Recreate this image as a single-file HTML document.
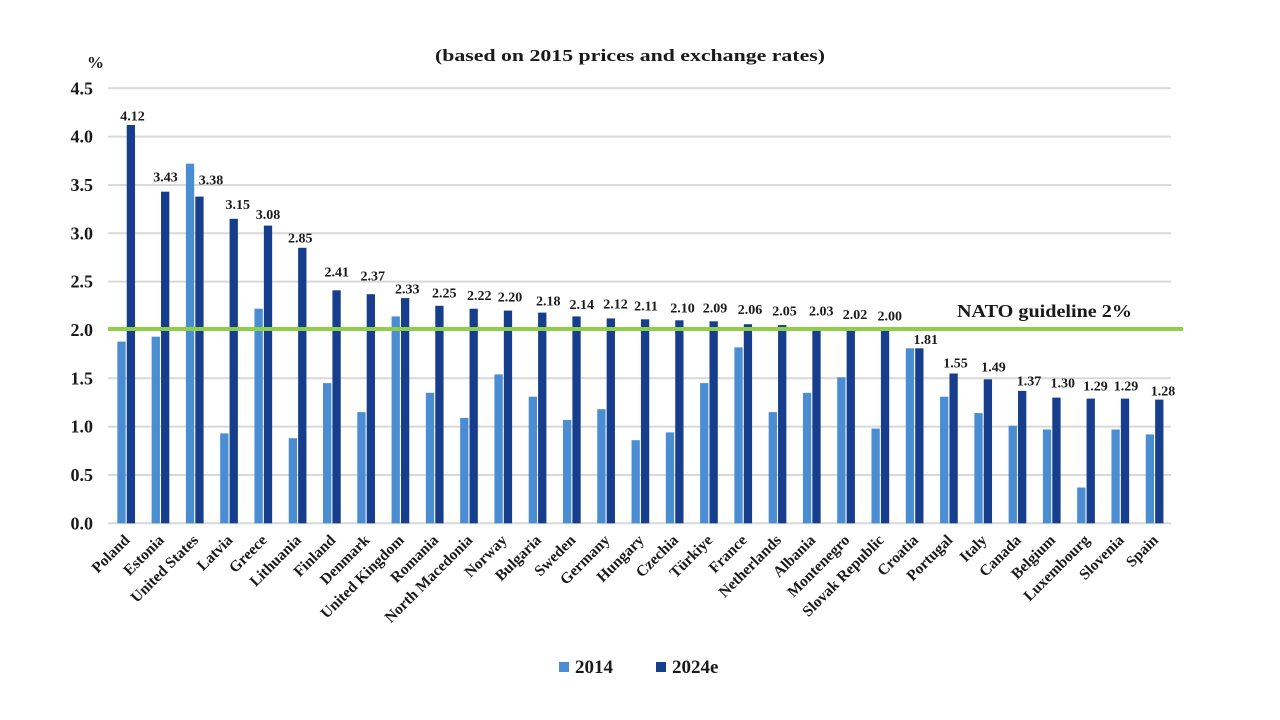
<!DOCTYPE html>
<html>
<head>
<meta charset="utf-8">
<style>
  html, body { margin:0; padding:0; background:#ffffff; }
  svg { display:block; }
  text { font-family:"Liberation Serif", serif; font-weight:bold; fill:#1a1a1a; }
</style>
</head>
<body>
<svg width="1280" height="720" viewBox="0 0 1280 720" xmlns="http://www.w3.org/2000/svg">
  <rect x="0" y="0" width="1280" height="720" fill="#ffffff"/>

  <!-- Title -->
  <text x="435" y="61" font-size="17" textLength="390" lengthAdjust="spacingAndGlyphs">(based on 2015 prices and exchange rates)</text>
  <text x="87" y="68" font-size="17">%</text>

  <!-- Gridlines -->
  <g stroke="#d9d9d9" stroke-width="2">
    <line x1="108" y1="88.3" x2="1171" y2="88.3"/>
    <line x1="108" y1="136.6" x2="1171" y2="136.6"/>
    <line x1="108" y1="185.0" x2="1171" y2="185.0"/>
    <line x1="108" y1="233.3" x2="1171" y2="233.3"/>
    <line x1="108" y1="281.6" x2="1171" y2="281.6"/>
    <line x1="108" y1="330.0" x2="1171" y2="330.0"/>
    <line x1="108" y1="378.3" x2="1171" y2="378.3"/>
    <line x1="108" y1="426.6" x2="1171" y2="426.6"/>
    <line x1="108" y1="475.0" x2="1171" y2="475.0"/>
    <line x1="108" y1="523.3" x2="1171" y2="523.3"/>
  </g>

  <!-- Y axis labels -->
  <g font-size="18" text-anchor="end">
    <text x="93" y="94.3">4.5</text>
    <text x="93" y="142.6">4.0</text>
    <text x="93" y="191.0">3.5</text>
    <text x="93" y="239.3">3.0</text>
    <text x="93" y="287.6">2.5</text>
    <text x="93" y="336.0">2.0</text>
    <text x="93" y="384.3">1.5</text>
    <text x="93" y="432.6">1.0</text>
    <text x="93" y="481.0">0.5</text>
    <text x="93" y="529.3">0.0</text>
  </g>

  <!-- 2014 bars -->
  <g fill="#4a8dd3">
    <rect x="117.34" y="341.6" width="8.3" height="181.7"/>
    <rect x="151.62" y="336.7" width="8.3" height="186.6"/>
    <rect x="185.90" y="163.7" width="8.3" height="359.6"/>
    <rect x="220.18" y="433.4" width="8.3" height="89.9"/>
    <rect x="254.46" y="308.7" width="8.3" height="214.6"/>
    <rect x="288.74" y="438.2" width="8.3" height="85.1"/>
    <rect x="323.02" y="383.1" width="8.3" height="140.2"/>
    <rect x="357.30" y="412.1" width="8.3" height="111.2"/>
    <rect x="391.58" y="316.4" width="8.3" height="206.9"/>
    <rect x="425.86" y="392.8" width="8.3" height="130.5"/>
    <rect x="460.14" y="417.9" width="8.3" height="105.4"/>
    <rect x="494.42" y="374.4" width="8.3" height="148.9"/>
    <rect x="528.70" y="396.7" width="8.3" height="126.6"/>
    <rect x="562.98" y="419.9" width="8.3" height="103.4"/>
    <rect x="597.26" y="409.2" width="8.3" height="114.1"/>
    <rect x="631.54" y="440.2" width="8.3" height="83.1"/>
    <rect x="665.82" y="432.4" width="8.3" height="90.9"/>
    <rect x="700.10" y="383.1" width="8.3" height="140.2"/>
    <rect x="734.38" y="347.4" width="8.3" height="175.9"/>
    <rect x="768.66" y="412.1" width="8.3" height="111.2"/>
    <rect x="802.94" y="392.8" width="8.3" height="130.5"/>
    <rect x="837.22" y="377.3" width="8.3" height="146.0"/>
    <rect x="871.50" y="428.6" width="8.3" height="94.7"/>
    <rect x="905.78" y="348.3" width="8.3" height="175.0"/>
    <rect x="940.06" y="396.7" width="8.3" height="126.6"/>
    <rect x="974.34" y="413.1" width="8.3" height="110.2"/>
    <rect x="1008.62" y="425.7" width="8.3" height="97.6"/>
    <rect x="1042.90" y="429.5" width="8.3" height="93.8"/>
    <rect x="1077.18" y="487.5" width="8.3" height="35.8"/>
    <rect x="1111.46" y="429.5" width="8.3" height="93.8"/>
    <rect x="1145.74" y="434.4" width="8.3" height="88.9"/>
  </g>

  <!-- 2024e bars -->
  <g fill="#163e8c">
    <rect x="126.74" y="125.0" width="8.3" height="398.3"/>
    <rect x="161.02" y="191.7" width="8.3" height="331.6"/>
    <rect x="195.30" y="196.6" width="8.3" height="326.7"/>
    <rect x="229.58" y="218.8" width="8.3" height="304.5"/>
    <rect x="263.86" y="225.6" width="8.3" height="297.7"/>
    <rect x="298.14" y="247.8" width="8.3" height="275.5"/>
    <rect x="332.42" y="290.3" width="8.3" height="233.0"/>
    <rect x="366.70" y="294.2" width="8.3" height="229.1"/>
    <rect x="400.98" y="298.1" width="8.3" height="225.2"/>
    <rect x="435.26" y="305.8" width="8.3" height="217.5"/>
    <rect x="469.54" y="308.7" width="8.3" height="214.6"/>
    <rect x="503.82" y="310.6" width="8.3" height="212.7"/>
    <rect x="538.10" y="312.6" width="8.3" height="210.7"/>
    <rect x="572.38" y="316.4" width="8.3" height="206.9"/>
    <rect x="606.66" y="318.4" width="8.3" height="204.9"/>
    <rect x="640.94" y="319.3" width="8.3" height="204.0"/>
    <rect x="675.22" y="320.3" width="8.3" height="203.0"/>
    <rect x="709.50" y="321.3" width="8.3" height="202.0"/>
    <rect x="743.78" y="324.2" width="8.3" height="199.1"/>
    <rect x="778.06" y="325.1" width="8.3" height="198.2"/>
    <rect x="812.34" y="327.1" width="8.3" height="196.2"/>
    <rect x="846.62" y="328.0" width="8.3" height="195.3"/>
    <rect x="880.90" y="330.0" width="8.3" height="193.3"/>
    <rect x="915.18" y="348.3" width="8.3" height="175.0"/>
    <rect x="949.46" y="373.5" width="8.3" height="149.8"/>
    <rect x="983.74" y="379.3" width="8.3" height="144.0"/>
    <rect x="1018.02" y="390.9" width="8.3" height="132.4"/>
    <rect x="1052.30" y="397.6" width="8.3" height="125.7"/>
    <rect x="1086.58" y="398.6" width="8.3" height="124.7"/>
    <rect x="1120.86" y="398.6" width="8.3" height="124.7"/>
    <rect x="1155.14" y="399.6" width="8.3" height="123.7"/>
  </g>

  <!-- NATO guideline line -->
  <line x1="108" y1="329" x2="1183" y2="329" stroke="#8fce47" stroke-width="4"/>
  <text x="957" y="317" font-size="18" textLength="175" lengthAdjust="spacingAndGlyphs">NATO guideline 2%</text>

  <!-- Value labels -->
  <g font-size="14" text-anchor="middle">
    <text x="132.5" y="120.7">4.12</text>
    <text x="165.5" y="181.7">3.43</text>
    <text x="211" y="184.7">3.38</text>
    <text x="237.8" y="209">3.15</text>
    <text x="268" y="219">3.08</text>
    <text x="300.3" y="242.3">2.85</text>
    <text x="336.7" y="276.3">2.41</text>
    <text x="372.7" y="280.7">2.37</text>
    <text x="407.3" y="293.3">2.33</text>
    <text x="444.2" y="297.3">2.25</text>
    <text x="479.3" y="300">2.22</text>
    <text x="510" y="301.7">2.20</text>
    <text x="548.2" y="305.7">2.18</text>
    <text x="581.7" y="309">2.14</text>
    <text x="615.5" y="308.3">2.12</text>
    <text x="646" y="310.7">2.11</text>
    <text x="682.5" y="312.3">2.10</text>
    <text x="715" y="312.3">2.09</text>
    <text x="750" y="314">2.06</text>
    <text x="784.5" y="315.7">2.05</text>
    <text x="821.2" y="315.7">2.03</text>
    <text x="855" y="319">2.02</text>
    <text x="889.7" y="320.7">2.00</text>
    <text x="925.8" y="344">1.81</text>
    <text x="955.5" y="367.3">1.55</text>
    <text x="993.5" y="371.7">1.49</text>
    <text x="1029" y="385.7">1.37</text>
    <text x="1062.8" y="387.3">1.30</text>
    <text x="1095.5" y="390.7">1.29</text>
    <text x="1126" y="390.7">1.29</text>
    <text x="1163" y="395.7">1.28</text>
  </g>

  <!-- X axis category labels -->
  <g font-size="15.5" text-anchor="end">
    <text x="130.6" y="541" transform="rotate(-45 130.6 541)">Poland</text>
    <text x="164.9" y="541" transform="rotate(-45 164.9 541)">Estonia</text>
    <text x="199.2" y="541" transform="rotate(-45 199.2 541)">United States</text>
    <text x="233.5" y="541" transform="rotate(-45 233.5 541)">Latvia</text>
    <text x="267.8" y="541" transform="rotate(-45 267.8 541)">Greece</text>
    <text x="302.0" y="541" transform="rotate(-45 302.0 541)">Lithuania</text>
    <text x="336.3" y="541" transform="rotate(-45 336.3 541)">Finland</text>
    <text x="370.6" y="541" transform="rotate(-45 370.6 541)">Denmark</text>
    <text x="404.9" y="541" transform="rotate(-45 404.9 541)">United Kingdom</text>
    <text x="439.2" y="541" transform="rotate(-45 439.2 541)">Romania</text>
    <text x="473.4" y="541" transform="rotate(-45 473.4 541)">North Macedonia</text>
    <text x="507.7" y="541" transform="rotate(-45 507.7 541)">Norway</text>
    <text x="542.0" y="541" transform="rotate(-45 542.0 541)">Bulgaria</text>
    <text x="576.3" y="541" transform="rotate(-45 576.3 541)">Sweden</text>
    <text x="610.6" y="541" transform="rotate(-45 610.6 541)">Germany</text>
    <text x="644.8" y="541" transform="rotate(-45 644.8 541)">Hungary</text>
    <text x="679.1" y="541" transform="rotate(-45 679.1 541)">Czechia</text>
    <text x="713.4" y="541" transform="rotate(-45 713.4 541)">Türkiye</text>
    <text x="747.7" y="541" transform="rotate(-45 747.7 541)">France</text>
    <text x="782.0" y="541" transform="rotate(-45 782.0 541)">Netherlands</text>
    <text x="816.2" y="541" transform="rotate(-45 816.2 541)">Albania</text>
    <text x="850.5" y="541" transform="rotate(-45 850.5 541)">Montenegro</text>
    <text x="884.8" y="541" transform="rotate(-45 884.8 541)">Slovak Republic</text>
    <text x="919.1" y="541" transform="rotate(-45 919.1 541)">Croatia</text>
    <text x="953.4" y="541" transform="rotate(-45 953.4 541)">Portugal</text>
    <text x="987.6" y="541" transform="rotate(-45 987.6 541)">Italy</text>
    <text x="1021.9" y="541" transform="rotate(-45 1021.9 541)">Canada</text>
    <text x="1056.2" y="541" transform="rotate(-45 1056.2 541)">Belgium</text>
    <text x="1090.5" y="541" transform="rotate(-45 1090.5 541)">Luxembourg</text>
    <text x="1124.8" y="541" transform="rotate(-45 1124.8 541)">Slovenia</text>
    <text x="1159.0" y="541" transform="rotate(-45 1159.0 541)">Spain</text>
  </g>

  <!-- Legend -->
  <rect x="559" y="662" width="10" height="10" fill="#4a8dd3"/>
  <text x="575" y="673" font-size="19">2014</text>
  <rect x="656" y="662" width="10" height="10" fill="#163e8c"/>
  <text x="672" y="673" font-size="19">2024e</text>
</svg>
</body>
</html>
